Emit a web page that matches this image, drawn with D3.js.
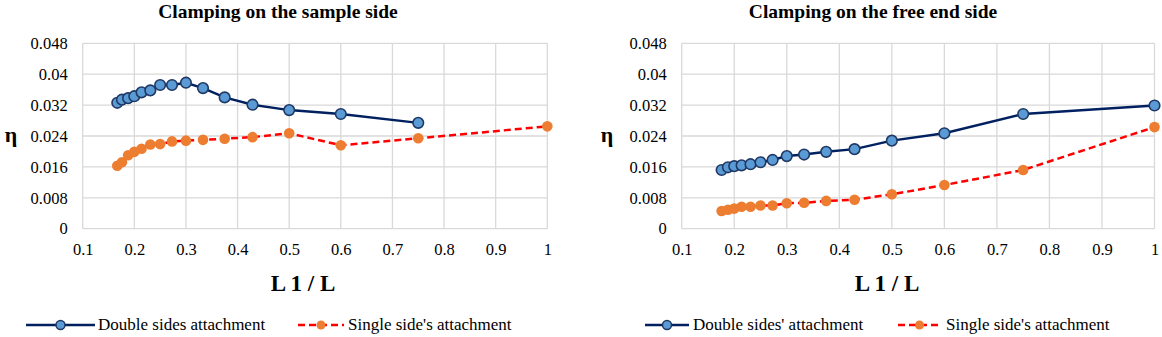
<!DOCTYPE html>
<html>
<head>
<meta charset="utf-8">
<script src="https://cdn.jsdelivr.net/npm/d3@7"></script>
<style>
  html, body { margin: 0; padding: 0; background: #fff; }
  svg { display: block; }
  svg text { font-family: "Liberation Serif", "Times New Roman", Times, serif !important; fill: #000; }
</style>
</head>
<body>
<svg id="chart" width="1162" height="337"></svg>
<script>
// ---------- data ----------
const xTicks = [0.1, 0.2, 0.3, 0.4, 0.5, 0.6, 0.7, 0.8, 0.9, 1];
const yTicks = [0, 0.008, 0.016, 0.024, 0.032, 0.04, 0.048];

// Left chart: Clamping on the sample side
const leftTitle = "Clamping on the sample side";
const leftDoubleX = [0.167, 0.176, 0.188, 0.2, 0.214, 0.231, 0.25, 0.273, 0.3, 0.333, 0.375, 0.429, 0.5, 0.6, 0.75];
const leftDoubleY = [0.0326, 0.0334, 0.0338, 0.0343, 0.0353, 0.0358, 0.0372, 0.0372, 0.0378, 0.0364, 0.0340, 0.0321, 0.0307, 0.0297, 0.0274];
const leftDoubleErr = [0.0003, 0.0003, 0.0003, 0.0003, 0.0003, 0.0003, 0.0004, 0.0006, 0.0009, 0.0003, 0.0003, 0.0003, 0.0003, 0.0003, 0.0005];
const leftSingleX = [0.167, 0.176, 0.188, 0.2, 0.214, 0.231, 0.25, 0.273, 0.3, 0.333, 0.375, 0.429, 0.5, 0.6, 0.75, 1];
const leftSingleY = [0.0163, 0.0172, 0.0190, 0.0199, 0.0207, 0.0218, 0.0219, 0.0226, 0.0228, 0.0230, 0.0233, 0.0237, 0.0247, 0.0216, 0.0234, 0.0265];
const leftSingleErr = [0.0005, 0.0003, 0.0003, 0.0003, 0.0003, 0.0003, 0.0003, 0.0003, 0.0003, 0.0003, 0.0003, 0.0003, 0.0007, 0.0003, 0.0003, 0.0005];
const leftLegend = ["Double sides attachment", "Single side's attachment"];

// Right chart: Clamping on the free end side
const rightTitle = "Clamping on the free end side";
const rightX = [0.176, 0.188, 0.2, 0.214, 0.231, 0.25, 0.273, 0.3, 0.333, 0.375, 0.429, 0.5, 0.6, 0.75, 1];
const rightDoubleY = [0.0152, 0.0159, 0.0162, 0.0164, 0.0167, 0.0172, 0.0178, 0.0188, 0.0192, 0.0199, 0.0206, 0.0228, 0.0247, 0.0297, 0.0319];
const rightDoubleErr = [0.0003, 0.0003, 0.0003, 0.0003, 0.0003, 0.0003, 0.0003, 0.0003, 0.0004, 0.0003, 0.0003, 0.0003, 0.0003, 0.0003, 0.0009];
const rightSingleY = [0.0046, 0.0049, 0.0052, 0.0057, 0.0057, 0.0060, 0.0060, 0.0066, 0.0067, 0.0072, 0.0075, 0.0089, 0.0113, 0.0152, 0.0263];
const rightSingleErr = [0.0002, 0.0002, 0.0002, 0.0002, 0.0002, 0.0002, 0.0002, 0.0002, 0.0002, 0.0002, 0.0002, 0.0002, 0.0002, 0.0007, 0.0008];
const rightLegend = ["Double sides' attachment", "Single side's attachment"];

const xLabel = "L 1 / L";
const yLabel = "η";

// ---------- styles ----------
const FONT = "'Liberation Serif', 'Times New Roman', serif";
const BLUE_LINE = "#002060", BLUE_FILL = "#5b9bd5", BLUE_STROKE = "#1f3864";
const RED_LINE = "#ff0000", ORANGE_FILL = "#ed7d31";
const GRID = "#d9d9d9";

const svg = d3.select("#chart").attr("font-family", FONT);

function drawChart(cfg) {
  const x = d3.scaleLinear().domain([0.1, 1]).range([cfg.x0, cfg.x1]);
  const y = d3.scaleLinear().domain([0, 0.048]).range([228.7, 43.3]);
  const g = svg.append("g");

  // grid
  g.append("g").selectAll("line").data(yTicks).join("line")
    .attr("x1", cfg.x0).attr("x2", cfg.x1)
    .attr("y1", d => y(d)).attr("y2", d => y(d))
    .attr("stroke", GRID).attr("stroke-width", 1.3);
  g.append("g").selectAll("line").data(xTicks).join("line")
    .attr("x1", d => x(d)).attr("x2", d => x(d))
    .attr("y1", y(0)).attr("y2", y(0.048))
    .attr("stroke", GRID).attr("stroke-width", 1.3);

  // axes (labels only)
  const yAxis = g.append("g").attr("transform", `translate(${cfg.x0},0)`)
    .call(d3.axisLeft(y).tickValues(yTicks).tickSize(0).tickPadding(15)
      .tickFormat(d => d === 0 ? "0" : String(+d.toFixed(3))));
  yAxis.attr("font-family", FONT).attr("font-size", 16.5);
  yAxis.select(".domain").remove();

  const xAxis = g.append("g").attr("transform", `translate(0,${y(0)})`)
    .call(d3.axisBottom(x).tickValues(xTicks).tickSize(0).tickPadding(15)
      .tickFormat(d => String(d)));
  xAxis.attr("font-family", FONT).attr("font-size", 16.5);
  xAxis.select(".domain").remove();

  // titles
  g.append("text").attr("x", cfg.titleX).attr("y", 18).attr("text-anchor", "middle")
    .attr("font-size", 19.5).attr("font-weight", "bold").text(cfg.title);
  g.append("text").attr("x", cfg.etaX).attr("y", 142).attr("text-anchor", "middle")
    .attr("font-size", 22).attr("font-weight", "bold").text(yLabel);
  g.append("text").attr("x", cfg.xLabX).attr("y", 291).attr("text-anchor", "middle")
    .attr("font-size", 23).attr("font-weight", "bold").text(xLabel);

  const line = d3.line().x(d => x(d[0])).y(d => y(d[1]));

  function series(xs, ys, errs, lineColor, dash, fill, stroke) {
    const pts = xs.map((v, i) => [v, ys[i], errs[i]]);
    g.append("path").datum(pts).attr("d", line)
      .attr("fill", "none").attr("stroke", lineColor).attr("stroke-width", 2.5)
      .attr("stroke-dasharray", dash);
    const eb = g.append("g");
    eb.selectAll("line.v").data(pts).join("line").attr("class", "v")
      .attr("x1", d => x(d[0])).attr("x2", d => x(d[0]))
      .attr("y1", d => y(d[1] - d[2])).attr("y2", d => y(d[1] + d[2]))
      .attr("stroke", stroke).attr("stroke-width", 1.5);
    [1, -1].forEach(s => {
      eb.append("g").selectAll("line").data(pts).join("line")
        .attr("x1", d => x(d[0]) - 4).attr("x2", d => x(d[0]) + 4)
        .attr("y1", d => y(d[1] + s * d[2])).attr("y2", d => y(d[1] + s * d[2]))
        .attr("stroke", stroke).attr("stroke-width", 1.5);
    });
    g.append("g").selectAll("circle").data(pts).join("circle")
      .attr("cx", d => x(d[0])).attr("cy", d => y(d[1])).attr("r", 5.3)
      .attr("fill", fill).attr("stroke", stroke).attr("stroke-width", stroke === fill ? 0 : 1.6);
  }

  series(cfg.dX, cfg.dY, cfg.dE, BLUE_LINE, null, BLUE_FILL, BLUE_STROKE);
  series(cfg.sX, cfg.sY, cfg.sE, RED_LINE, "7,4", ORANGE_FILL, ORANGE_FILL);

  // legend
  const lg = g.append("g");
  const ly = 325;
  const L = cfg.legend;
  lg.append("line").attr("x1", L.l1a).attr("x2", L.l1b).attr("y1", ly).attr("y2", ly)
    .attr("stroke", BLUE_LINE).attr("stroke-width", 2.5);
  lg.append("circle").attr("cx", (L.l1a + L.l1b) / 2).attr("cy", ly).attr("r", 4.5)
    .attr("fill", BLUE_FILL).attr("stroke", BLUE_STROKE).attr("stroke-width", 1.5);
  lg.append("text").attr("x", L.t1).attr("y", ly + 5).attr("font-size", 17).text(cfg.legendText[0]);
  lg.append("line").attr("x1", L.l2a).attr("x2", L.l2b).attr("y1", ly).attr("y2", ly)
    .attr("stroke", RED_LINE).attr("stroke-width", 2.5).attr("stroke-dasharray", "7,4");
  lg.append("circle").attr("cx", (L.l2a + L.l2b) / 2).attr("cy", ly).attr("r", 4.5)
    .attr("fill", ORANGE_FILL);
  lg.append("text").attr("x", L.t2).attr("y", ly + 5).attr("font-size", 17).text(cfg.legendText[1]);
}

drawChart({
  x0: 82.7, x1: 547.3, title: leftTitle, titleX: 278, etaX: 11, xLabX: 303,
  dX: leftDoubleX, dY: leftDoubleY, dE: leftDoubleErr,
  sX: leftSingleX, sY: leftSingleY, sE: leftSingleErr,
  legendText: leftLegend,
  legend: { l1a: 26, l1b: 95, t1: 98, l2a: 298, l2b: 344, t2: 348 }
});

drawChart({
  x0: 681.7, x1: 1154.5, title: rightTitle, titleX: 873, etaX: 607, xLabX: 887,
  dX: rightX, dY: rightDoubleY, dE: rightDoubleErr,
  sX: rightX, sY: rightSingleY, sE: rightSingleErr,
  legendText: rightLegend,
  legend: { l1a: 645, l1b: 689, t1: 693, l2a: 898, l2b: 941, t2: 946 }
});
</script>
</body>
</html>
